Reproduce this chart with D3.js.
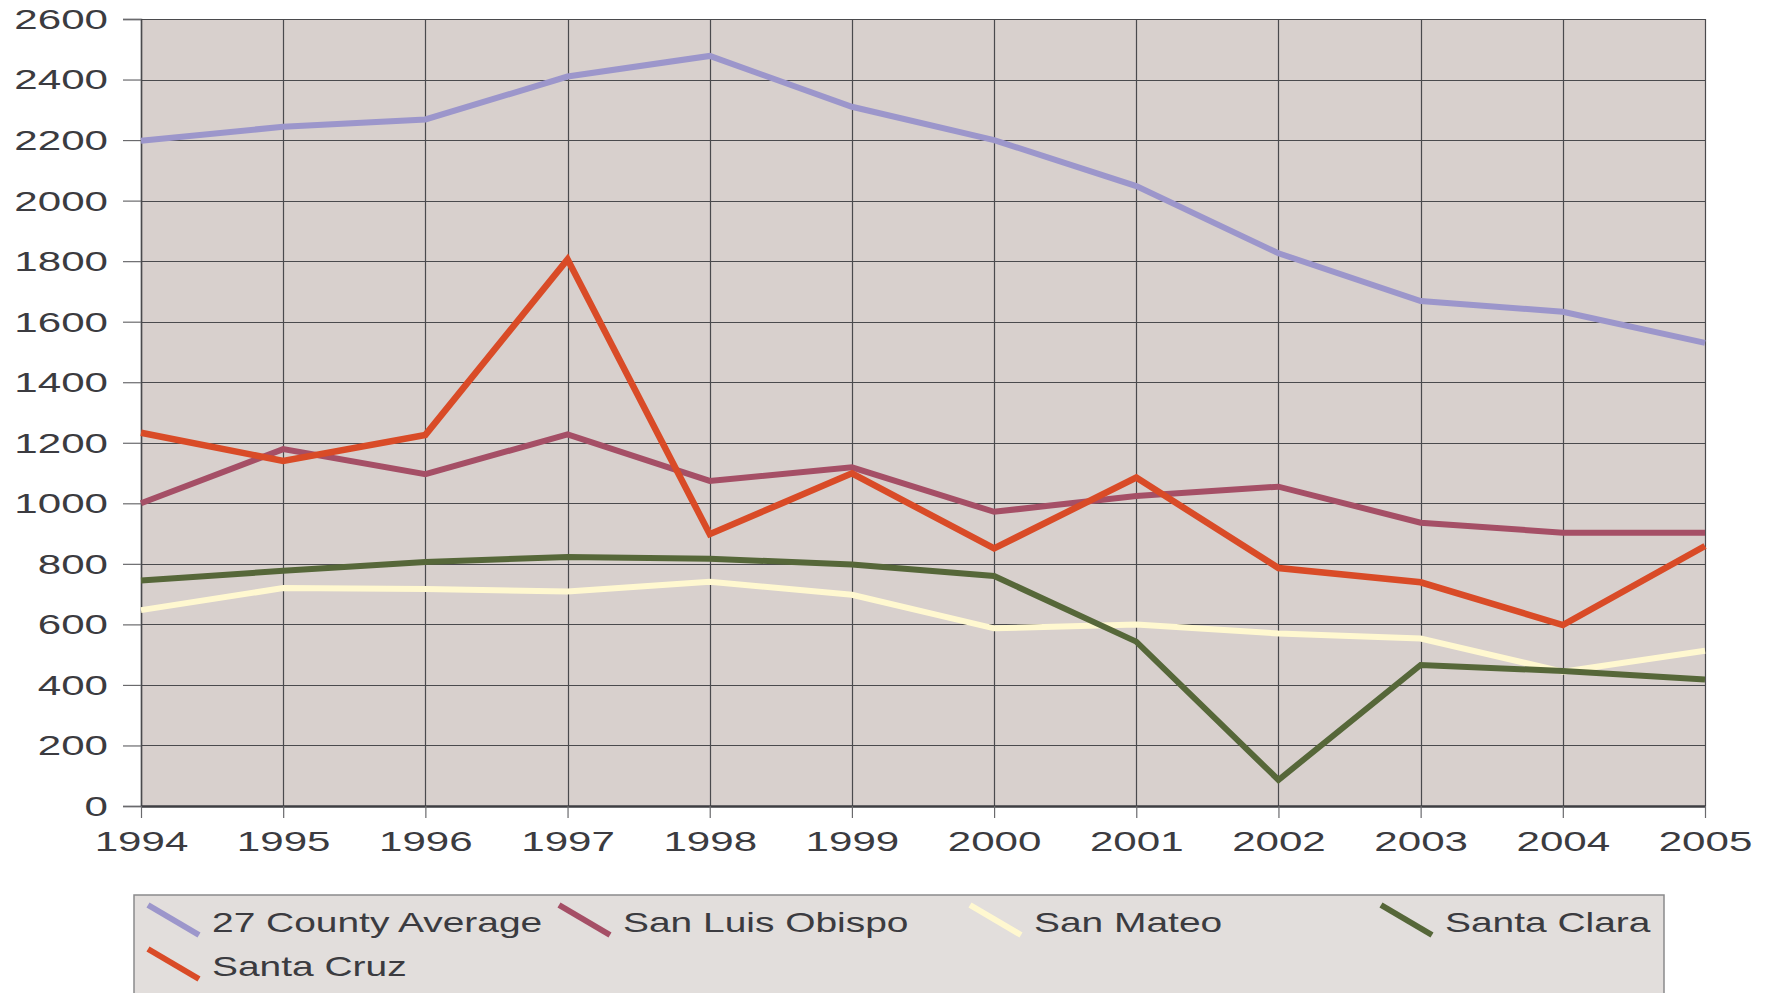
<!DOCTYPE html>
<html>
<head>
<meta charset="utf-8">
<script src="https://cdn.jsdelivr.net/npm/d3@7"></script>
<style>
    body { margin: 0; background: #ffffff; }
    svg { display: block; }
</style>
</head>
<body>
<div id="chart"></div>
<script>
// data
var years = [1994, 1995, 1996, 1997, 1998, 1999, 2000, 2001, 2002, 2003, 2004, 2005];
var yTicks = [0, 200, 400, 600, 800, 1000, 1200, 1400, 1600, 1800, 2000, 2200, 2400, 2600];
var seriesNames = ["27 County Average", "San Luis Obispo", "San Mateo", "Santa Clara", "Santa Cruz"];
var countyAverage = [2198, 2244, 2268, 2410, 2478, 2310, 2200, 2048, 1826, 1668, 1633, 1530];
var sanLuisObispo = [1000, 1179, 1096, 1228, 1074, 1119, 972, 1024, 1055, 936, 903, 903];
var sanMateo = [647, 720, 717, 709, 741, 698, 587, 600, 570, 553, 444, 513];
var santaClara = [745, 777, 806, 823, 817, 798, 760, 543, 86, 466, 446, 418];
var santaCruz = [1233, 1140, 1226, 1806, 898, 1099, 851, 1085, 786, 739, 598, 859];

var seriesColors = ["#9c96cb", "#a54f66", "#fff8d0", "#566739", "#d94b27"];
var seriesValues = [countyAverage, sanLuisObispo, sanMateo, santaClara, santaCruz];

function drawChart() {
    var W = 1768, H = 993;
    var margin = { top: 19, right: 63, bottom: 187, left: 141 };
    var width = W - margin.left - margin.right;
    var height = H - margin.top - margin.bottom;
    var textColor = "#3b3b40";
    var tickStretch = 1.56; // tick labels in the picture are drawn wide

    var svg = d3.select("#chart")
        .append("svg")
        .attr("width", W)
        .attr("height", H);

    var g = svg.append("g")
        .attr("transform", "translate(" + margin.left + "," + margin.top + ")");

    var x = d3.scalePoint()
        .domain(years)
        .range([0, width]);

    var y = d3.scaleLinear()
        .domain([0, 2600])
        .range([height, 0]);

    // plot background
    g.append("rect")
        .attr("width", width)
        .attr("height", height)
        .attr("fill", "#d8d0cd");

    // grid lines
    g.append("g")
        .selectAll("line")
        .data(yTicks)
        .enter()
        .append("line")
        .attr("x1", 0)
        .attr("x2", width)
        .attr("y1", d => Math.round(y(d)) + 0.5)
        .attr("y2", d => Math.round(y(d)) + 0.5)
        .attr("stroke", "#4a4a4d")
        .attr("stroke-width", 1.2);

    g.append("g")
        .selectAll("line")
        .data(years)
        .enter()
        .append("line")
        .attr("x1", d => Math.round(x(d)) + 0.5)
        .attr("x2", d => Math.round(x(d)) + 0.5)
        .attr("y1", 0)
        .attr("y2", height)
        .attr("stroke", "#4a4a4d")
        .attr("stroke-width", 1.2);

    // left axis
    var yAxis = g.append("g")
        .call(d3.axisLeft(y).tickValues(yTicks).tickFormat(d3.format("d")).tickSize(18).tickPadding(0));
    yAxis.select(".domain").attr("stroke", "#4a4a4d").attr("stroke-width", 1.5);
    yAxis.selectAll(".tick line").attr("stroke", "#6a6a6d").attr("stroke-width", 1.2);
    yAxis.selectAll(".tick text")
        .attr("x", -33 / tickStretch)
        .attr("dy", "0.35em")
        .attr("transform", "scale(" + tickStretch + ",1)")
        .style("font-family", "'Liberation Sans', Arial, sans-serif")
        .style("font-size", "27px")
        .style("fill", textColor);

    // bottom axis
    var xAxis = g.append("g")
        .attr("transform", "translate(0," + height + ")")
        .call(d3.axisBottom(x).tickSize(12).tickSizeOuter(0));
    xAxis.select(".domain").attr("stroke", "#3e3e42").attr("stroke-width", 2.5);
    xAxis.selectAll(".tick line").attr("stroke", "#6a6a6d").attr("stroke-width", 1.2);
    xAxis.selectAll(".tick text")
        .attr("y", 45)
        .attr("dy", 0)
        .attr("transform", "scale(" + tickStretch + ",1)")
        .style("font-family", "'Liberation Sans', Arial, sans-serif")
        .style("font-size", "27px")
        .style("fill", textColor);

    // lines
    var line = d3.line()
        .x((d, i) => x(years[i]))
        .y(d => y(d));

    g.append("g")
        .selectAll("path")
        .data(seriesValues)
        .enter()
        .append("path")
        .attr("d", d => line(d))
        .attr("fill", "none")
        .attr("stroke", (d, i) => seriesColors[i])
        .attr("stroke-width", (d, i) => i == 4 ? 6.5 : 6)
        .attr("stroke-linejoin", "miter");

    // legend
    var legendX = 134, legendY = 895;
    svg.append("rect")
        .attr("x", legendX)
        .attr("y", legendY)
        .attr("width", 1530)
        .attr("height", 120)
        .attr("fill", "#e2dedc")
        .attr("stroke", "#8a8a8c")
        .attr("stroke-width", 1.5);

    var colStep = 411, rowStep = 44;
    var legend = svg.selectAll(".legend")
        .data(seriesNames)
        .enter()
        .append("g")
        .attr("class", "legend")
        .attr("transform", function (d, i) {
            var col = i % 4, row = Math.floor(i / 4);
            return "translate(" + (legendX + 14 + col * colStep) + "," + (legendY + 25 + row * rowStep) + ")";
        });

    legend.append("line")
        .attr("x1", 0)
        .attr("y1", -15)
        .attr("x2", 51)
        .attr("y2", 15)
        .attr("stroke", (d, i) => seriesColors[i])
        .attr("stroke-width", 6);

    legend.append("text")
        .attr("transform", "translate(64,12) scale(1.39,1)")
        .style("font-family", "'Liberation Sans', Arial, sans-serif")
        .style("font-size", "28px")
        .style("fill", textColor)
        .text(d => d);
}

drawChart();
</script>
</body>
</html>
